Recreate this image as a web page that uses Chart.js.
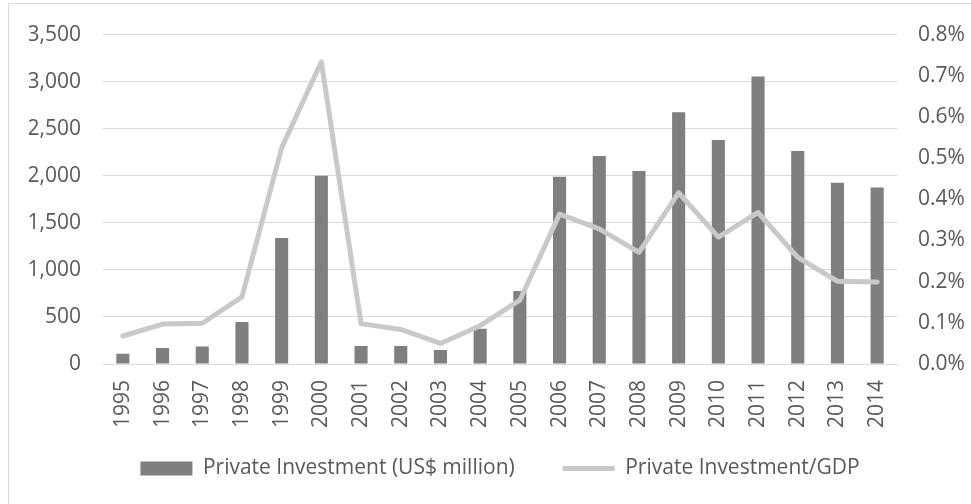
<!DOCTYPE html>
<html>
<head>
<meta charset="utf-8">
<script src="https://cdn.jsdelivr.net/npm/chart.js@4"></script>
<style>
  html, body { margin: 0; padding: 0; background: #fff; }
  body { width: 971px; height: 504px; position: relative; overflow: hidden; }
  #frame { position: absolute; left: 8px; top: 3px; width: 980px; height: 520px;
           border-top: 1px solid #d9d9d9; border-left: 1px solid #d9d9d9; }
  #wrap { position: absolute; left: 0; top: 0; width: 971px; height: 504px; }
</style>
</head>
<body>
<div id="frame"></div>
<div id="wrap"><canvas id="investChart"></canvas></div>
<script>
const years = ['1995','1996','1997','1998','1999','2000','2001','2002','2003','2004',
               '2005','2006','2007','2008','2009','2010','2011','2012','2013','2014'];
// Private Investment (US$ million)
const investment = [110, 170, 185, 445, 1340, 2000, 190, 190, 150, 375,
                    775, 1990, 2210, 2050, 2675, 2380, 3055, 2262, 1925, 1875];
// Private Investment/GDP (%)
const investGdp = [0.068, 0.097, 0.099, 0.163, 0.525, 0.734, 0.098, 0.084, 0.050, 0.093,
                   0.155, 0.364, 0.328, 0.271, 0.416, 0.308, 0.368, 0.259, 0.201, 0.199];

const textColor = '#595959';
const gridColor = '#d9d9d9';
Chart.defaults.font.family = '"Open Sans", sans-serif';
Chart.defaults.font.size = 21;
Chart.defaults.color = textColor;

// the x scale is kept short so the wide legend fits; give its labels room to draw
const xLabelRoom = {
    id: 'xLabelRoom',
    afterLayout(chart) {
        chart.scales.x.bottom = chart.scales.x.top + 84;
    }
};

const ctx = document.getElementById('investChart');
const data = {
    labels: years,
    datasets: [{
        type: 'bar',
        label: 'Private Investment (US$ million)',
        data: investment,
        backgroundColor: '#7f7f7f',
        borderWidth: 0,
        barPercentage: 0.33,
        categoryPercentage: 1,
        yAxisID: 'y',
        pointStyle: 'rect',
        order: 1
    }, {
        type: 'line',
        label: 'Private Investment/GDP',
        data: investGdp,
        borderColor: '#c9c9c9',
        backgroundColor: '#c9c9c9',
        borderWidth: 5,
        borderJoinStyle: 'round',
        borderCapStyle: 'round',
        tension: 0,
        pointRadius: 0,
        pointStyle: 'line',
        yAxisID: 'y1',
        order: 0
    }]
};

const config = {
    data: data,
    plugins: [xLabelRoom],
    options: {
        responsive: false,
        animation: false,
        // left padding only moves the legend centre; plot edges fixed via afterFit
        layout: { padding: { top: 33, left: 29, right: 0, bottom: 15 } },
        plugins: {
            tooltip: { enabled: false },
            legend: {
                position: 'bottom',
                labels: {
                    usePointStyle: true,
                    pointStyleWidth: 52,
                    boxHeight: 14,
                    padding: 48,
                    color: textColor,
                    sort: (a, b) => a.datasetIndex - b.datasetIndex
                }
            }
        },
        scales: {
            x: {
                grid: { display: false, drawTicks: false },
                border: { display: true, color: gridColor, width: 1 },
                ticks: { minRotation: 90, maxRotation: 90, padding: 16, color: textColor },
                afterFit: (s) => { s.height = 46; }
            },
            y: {
                position: 'left',
                min: 0,
                max: 3500,
                ticks: {
                    stepSize: 500,
                    padding: 22,
                    color: textColor,
                    callback: (v) => v.toLocaleString('en-US')
                },
                grid: { color: gridColor, drawTicks: false },
                border: { display: false },
                afterFit: (s) => { s.width = 74; }
            },
            y1: {
                position: 'right',
                min: 0,
                max: 0.8,
                ticks: {
                    stepSize: 0.1,
                    padding: 21,
                    color: textColor,
                    callback: (v) => v.toFixed(1) + '%'
                },
                grid: { display: false, drawTicks: false },
                border: { display: false },
                afterFit: (s) => { s.width = 74; }
            }
        }
    }
};

ctx.width = 971;
ctx.height = 504;
const investChart = new Chart(ctx, config);
</script>
</body>
</html>
